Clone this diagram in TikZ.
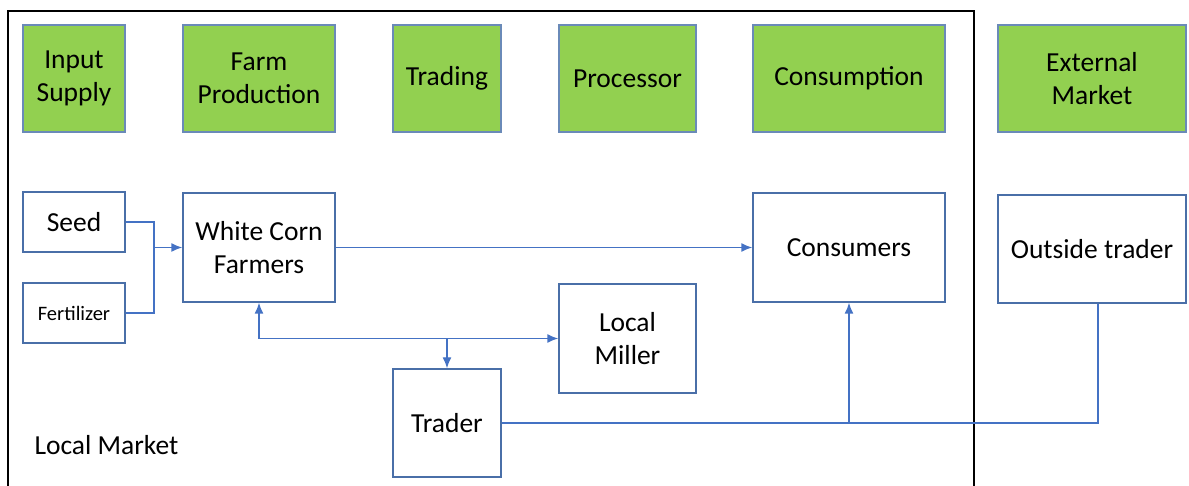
\documentclass[tikz,border=0pt]{standalone}
\usepackage{fontspec}
\setmainfont{Carlito}
\usetikzlibrary{arrows.meta, positioning, calc}
\definecolor{hdrfill}{HTML}{92D050}
\definecolor{hdrline}{HTML}{6A8AB8}
\definecolor{boxline}{HTML}{4A6FA8}
\definecolor{flowline}{HTML}{4472C4}
\tikzset{
  hdr/.style  = {rectangle, draw=hdrline, fill=hdrfill, line width=1.4pt,
                 align=center, font=\fontsize{27.5}{33}\selectfont, inner sep=2pt},
  box/.style  = {rectangle, draw=boxline, fill=white, line width=1.4pt,
                 align=center, font=\fontsize{27.5}{33}\selectfont, inner sep=2pt},
  flow/.style = {-{Latex[length=11pt, width=9pt]}, line width=1.4pt, draw=flowline},
  link/.style = {line width=1.4pt, draw=flowline},
}
\begin{document}
\begin{tikzpicture}[x=1pt, y=-1pt]
    \useasboundingbox (0,0) rectangle (1189,486);
    % local market frame
    \draw[line width=1.5pt] (8,486) -- (8,11) -- (974,11) -- (974,486);
    \node[anchor=west, font=\fontsize{27.5}{33}\selectfont] (lm) at (31,445) {Local Market};
    % stage headers
    \node[hdr, minimum width=102pt, minimum height=107pt] (hin)  at (74,78.5)   {Input\\Supply};
    \node[hdr, minimum width=152pt, minimum height=107pt] (hfarm) at (259,78.5) {Farm\\Production};
    \node[hdr, minimum width=108pt, minimum height=107pt] (htr)  at (447,78.5)  {Trading};
    \node[hdr, minimum width=137pt, minimum height=107pt] (hpro) at (627.5,78.5){Processor};
    \node[hdr, minimum width=192pt, minimum height=107pt] (hcon) at (849,78.5)  {Consumption};
    \node[hdr, minimum width=188pt, minimum height=107pt] (hext) at (1092,78.5) {External\\Market};
    % actors
    \node[box, minimum width=102pt, minimum height=60pt]  (seed) at (74,222)    {Seed};
    \node[box, minimum width=102pt, minimum height=60pt, font=\fontsize{20.5}{24}\selectfont] (fert) at (74,313) {Fertilizer};
    \node[box, minimum width=152pt, minimum height=109pt] (wcf)  at (259,247.5) {White Corn\\Farmers};
    \node[box, minimum width=192pt, minimum height=109pt] (cons) at (849,247.5) {Consumers};
    \node[box, minimum width=188pt, minimum height=108pt] (out)  at (1092,249)  {Outside trader};
    \node[box, minimum width=137pt, minimum height=109pt] (mill) at (627.5,338.5){Local\\Miller};
    \node[box, minimum width=108pt, minimum height=108pt] (trd)  at (447,423)   {Trader};
    % flows
    \coordinate (jn) at (154,247.5);
    \draw[link] (seed.east) -| (jn);
    \draw[link] (fert.east) -| (jn);
    \draw[flow] (jn) -- (wcf.west);
    \draw[flow] (wcf.east) -- (cons.west);
    \draw[flow, {Latex[length=11pt, width=9pt]}-{Latex[length=11pt, width=9pt]}] (wcf.south) |- (mill.west);
    \draw[flow] (trd.north |- mill.west) -- (trd.north);
    \draw[flow] (trd.east) -| (cons.south);
    \draw[link] ([xshift=6pt]out.south) |- (cons.south |- trd.east);
\end{tikzpicture}
\end{document}
